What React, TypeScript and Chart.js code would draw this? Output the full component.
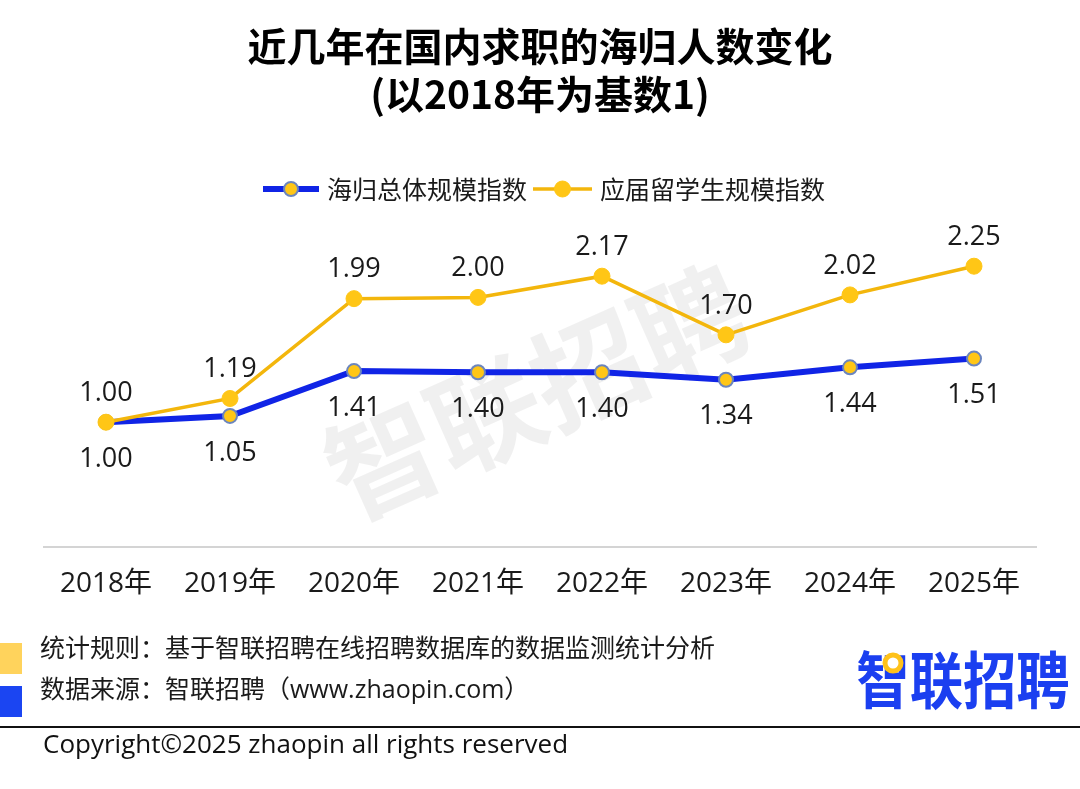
import React, { useEffect, useRef } from "react";
import { Chart, registerables } from "chart.js";

Chart.register(...registerables);

const categories = ["2018年", "2019年", "2020年", "2021年", "2022年", "2023年", "2024年", "2025年"];
const overallIndex = [1.0, 1.05, 1.41, 1.4, 1.4, 1.34, 1.44, 1.51];
const graduateIndex = [1.0, 1.19, 1.99, 2.0, 2.17, 1.7, 2.02, 2.25];
const seriesNames = ["海归总体规模指数", "应届留学生规模指数"];
const titleLines = ["近几年在国内求职的海归人数变化", "(以2018年为基数1)"];
const footerRule = "统计规则：基于智联招聘在线招聘数据库的数据监测统计分析";
const footerSource = "数据来源：智联招聘（www.zhaopin.com）";
const copyright = "Copyright©2025 zhaopin all rights reserved";
const logoText = "智联招聘";
const watermarkText = "智联招聘";

const BLUE = "#1024E6";
const YELLOW = "#F3B60C";
const POINT_FILL = "#FFC616";
const POINT_BORDER = "#6B85BE";
const LAT = '"Open Sans", "Noto Sans CJK SC", sans-serif';
const CJK = '"Noto Sans CJK SC", "Open Sans", sans-serif';

const decorPlugin = {
  id: "decor",
  beforeDatasetsDraw(chart: any) {
    const ctx = chart.ctx;
    ctx.save();
    ctx.translate(537, 392);
    ctx.rotate((-24 * Math.PI) / 180);
    ctx.font = `bold 112px ${CJK}`;
    ctx.fillStyle = "rgba(0,0,0,0.06)";
    ctx.textAlign = "center";
    ctx.textBaseline = "middle";
    ctx.fillText(watermarkText, 0, 0);
    ctx.restore();
  },
  afterDatasetsDraw(chart: any) {
    const ctx = chart.ctx;
    ctx.save();
    ctx.font = `27px ${LAT}`;
    ctx.fillStyle = "#1a1a1a";
    ctx.textAlign = "center";
    ctx.textBaseline = "middle";
    chart.data.datasets.forEach((ds: any, i: number) => {
      const meta = chart.getDatasetMeta(i);
      meta.data.forEach((pt: any, j: number) => {
        const v = ds.data[j] as number;
        const dy = ds.labelAbove ? -29 : 37;
        ctx.fillText(v.toFixed(2), pt.x, pt.y + dy);
      });
    });
    ctx.restore();
  },
  afterDraw(chart: any) {
    const ctx = chart.ctx;
    ctx.save();
    // Title
    ctx.fillStyle = "#000";
    ctx.textAlign = "center";
    ctx.textBaseline = "middle";
    ctx.font = `bold 39px ${CJK}`;
    ctx.fillText(titleLines[0], 540, 46);
    ctx.fillText(titleLines[1], 540, 94);

    // Legend
    const ly = 189;
    const drawItem = (x0: number, x1: number, color: string, lw: number, r: number, border: string, bw: number, label: string, tx: number) => {
      ctx.strokeStyle = color;
      ctx.lineWidth = lw;
      ctx.beginPath();
      ctx.moveTo(x0, ly);
      ctx.lineTo(x1, ly);
      ctx.stroke();
      ctx.beginPath();
      ctx.arc((x0 + x1) / 2, ly, r, 0, Math.PI * 2);
      ctx.fillStyle = POINT_FILL;
      ctx.fill();
      ctx.lineWidth = bw;
      ctx.strokeStyle = border;
      ctx.stroke();
      ctx.fillStyle = "#1a1a1a";
      ctx.font = `25px ${CJK}`;
      ctx.textAlign = "left";
      ctx.textBaseline = "middle";
      ctx.fillText(label, tx, ly);
    };
    drawItem(263, 319, BLUE, 6, 7, POINT_BORDER, 2, seriesNames[0], 327);
    drawItem(533, 592, YELLOW, 3.5, 8, POINT_FILL, 1, seriesNames[1], 600);

    // Footer squares
    ctx.fillStyle = "#FFD35C";
    ctx.fillRect(0, 643, 22, 31);
    ctx.fillStyle = "#1B45F2";
    ctx.fillRect(0, 686, 22, 31);
    ctx.fillStyle = "#1a1a1a";
    ctx.font = `25px ${CJK}`;
    ctx.textAlign = "left";
    ctx.textBaseline = "middle";
    ctx.fillText(footerRule, 40, 647);
    ctx.font = `25px ${LAT}`;
    ctx.fillText(footerSource, 40, 691);

    // Separator
    ctx.strokeStyle = "#111";
    ctx.lineWidth = 2;
    ctx.beginPath();
    ctx.moveTo(0, 727);
    ctx.lineTo(1080, 727);
    ctx.stroke();

    ctx.fillStyle = "#111";
    ctx.font = `26px ${LAT}`;
    ctx.fillText(copyright, 43, 746);

    // Logo
    ctx.save();
    ctx.translate(963, 680);
    ctx.scale(0.86, 1);
    ctx.font = `bold 62px ${CJK}`;
    ctx.fillStyle = "#1B3FF0";
    ctx.textAlign = "center";
    ctx.textBaseline = "middle";
    ctx.fillText(logoText, 0, 0);
    ctx.restore();
    ctx.beginPath();
    ctx.arc(893, 663, 8, 0, Math.PI * 2);
    ctx.fillStyle = "#fff";
    ctx.fill();
    ctx.lineWidth = 5;
    ctx.strokeStyle = "#FFC21A";
    ctx.stroke();

    ctx.restore();
  },
};

export default function App() {
  const ref = useRef<HTMLCanvasElement | null>(null);
  useEffect(() => {
    if (!ref.current) return;
    const chart = new Chart(ref.current, {
      type: "line",
      data: {
        labels: categories,
        datasets: [
          {
            label: seriesNames[0],
            data: overallIndex,
            borderColor: BLUE,
            borderWidth: 6,
            pointRadius: 7,
            pointBackgroundColor: POINT_FILL,
            pointBorderColor: POINT_BORDER,
            pointBorderWidth: 2,
            order: 1,
            labelAbove: false,
          } as any,
          {
            label: seriesNames[1],
            data: graduateIndex,
            borderColor: YELLOW,
            borderWidth: 3.5,
            pointRadius: 8,
            pointBackgroundColor: POINT_FILL,
            pointBorderColor: POINT_FILL,
            pointBorderWidth: 1,
            order: 0,
            labelAbove: true,
          } as any,
        ],
      },
      options: {
        responsive: false,
        animation: false,
        devicePixelRatio: 1,
        layout: { padding: { top: 235, left: 44, right: 44, bottom: 193 } },
        plugins: {
          legend: { display: false },
          tooltip: { enabled: false },
          title: { display: false },
        },
        scales: {
          x: {
            offset: true,
            grid: { display: false },
            border: { display: true, color: "#D4D4D4", width: 2 },
            ticks: { color: "#1a1a1a", padding: 12, font: { size: 28, family: LAT } },
            afterFit: (scale: any) => {
              scale.height = 49;
            },
          },
          y: { display: false, min: 0, max: 2.5 },
        },
      },
      plugins: [decorPlugin],
    });
    return () => chart.destroy();
  }, []);
  return (
    <div style={{ position: "fixed", left: 0, top: 0, width: 1080, height: 789, background: "#fff" }}>
      <canvas ref={ref} width={1080} height={789} style={{ display: "block" }} />
    </div>
  );
}
